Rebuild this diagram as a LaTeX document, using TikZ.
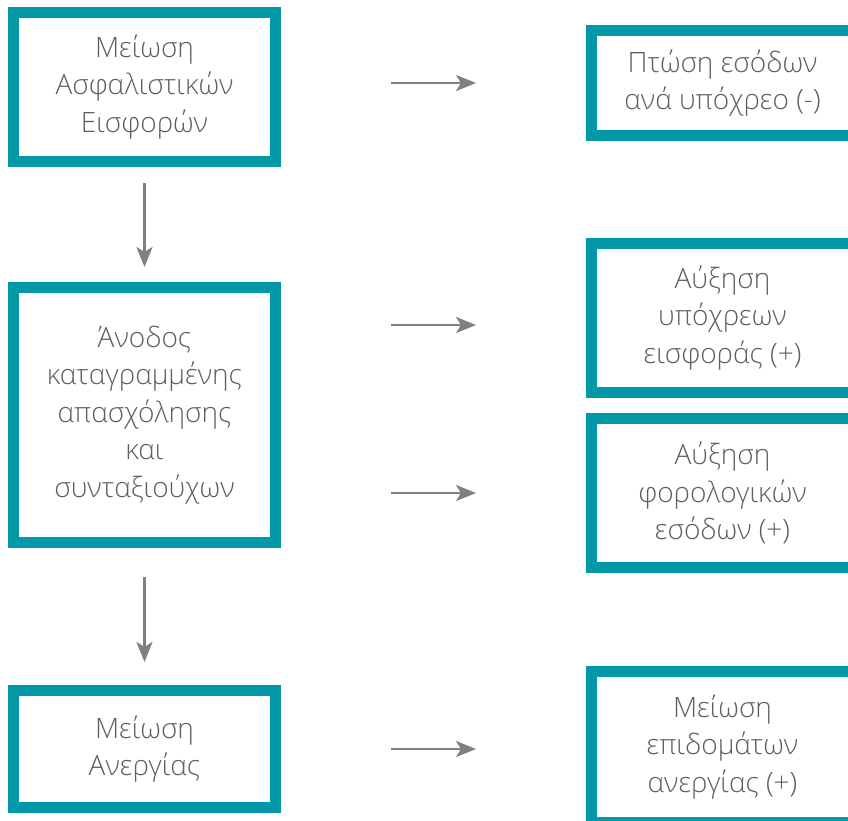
\documentclass[tikz,border=0pt]{standalone}
\usepackage{fontspec}
\setmainfont{Open Sans Light}
\usetikzlibrary{arrows.meta}
\definecolor{teal}{HTML}{0298A8}
\definecolor{txt}{HTML}{5E5E5E}
\definecolor{arrgray}{HTML}{808080}
\tikzset{
  box/.style={draw=teal, line width=11pt, fill=white, text=txt, align=center,
    minimum width=262pt, font=\fontsize{28}{37.5}\selectfont, inner sep=0pt},
  arr/.style={draw=arrgray, line width=2.6pt,
    -{Stealth[length=20pt,width=16pt,inset=5pt]}}
}
\begin{document}
\begin{tikzpicture}[x=1pt,y=-1pt]
\useasboundingbox (0,0) rectangle (848,820);
\clip (0,0) rectangle (848,820);
\fill[white] (0,0) rectangle (848,820);
% left column
\node[box, minimum height=149pt] (L1) at (144.5,87) {Μείωση\\Ασφαλιστικών\\Εισφορών};
\node[box, minimum height=255pt] (L2) at (144.5,415) {Άνοδος\\καταγραμμένης\\απασχόλησης\\και\\συνταξιούχων};
\node[box, minimum height=117pt] (L3) at (144.5,749) {Μείωση\\Ανεργίας};
% right column
\node[box, minimum height=105pt] (R1) at (722.5,83) {Πτώση εσόδων\\ανά υπόχρεο (-)};
\node[box, minimum height=149pt] (R2) at (722.5,318) {Αύξηση\\υπόχρεων\\εισφοράς (+)};
\node[box, minimum height=149pt] (R3) at (722.5,493) {Αύξηση\\φορολογικών\\εσόδων (+)};
\node[box, minimum height=151pt] (R4) at (722.5,747) {Μείωση\\επιδομάτων\\ανεργίας (+)};
\coordinate (r2in) at ([yshift=-7pt]R2.west);
% arrows
\draw[arr, shorten <=110pt, shorten >=110pt] (L1.east |- R1.west) -- (R1.west);
\draw[arr, shorten <=110pt, shorten >=110pt] (L2.east |- r2in) -- (r2in);
\draw[arr, shorten <=110pt, shorten >=110pt] (L2.east |- R3.west) -- (R3.west);
\draw[arr, shorten <=110pt, shorten >=110pt] (L3.east) -- (L3.east -| R4.west);
\draw[arr, shorten <=16pt, shorten >=15pt] (L1.south) -- (L2.north);
\draw[arr, shorten <=29pt, shorten >=23pt] (L2.south) -- (L3.north);
\end{tikzpicture}
\end{document}
